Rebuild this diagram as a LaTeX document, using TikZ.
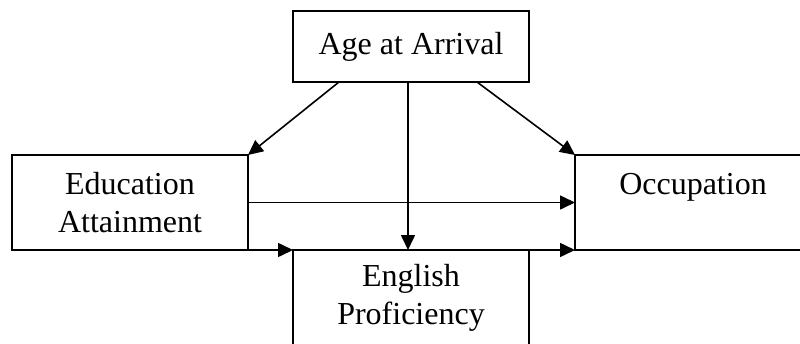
\documentclass[tikz,border=0pt]{standalone}
\usepackage{fontspec}
\setmainfont{Liberation Serif}
\usetikzlibrary{arrows.meta}
\begin{document}
\begin{tikzpicture}[x=1pt,y=-1pt,
  box/.style={draw,line width=1.6pt,minimum width=236pt,inner sep=0pt,outer sep=0pt,align=center,
    font=\fontsize{32}{38}\selectfont},
  conn/.style={line width=1.6pt,-{Triangle[length=15pt,width=14pt]}}]
\useasboundingbox (0,0) rectangle (800,343);
\clip (0,0) rectangle (800,343);
\fill[white] (0,0) rectangle (800,343);
\node[box,minimum height=71pt] (age) at (411,46.5) {Age at Arrival};
\node[box,minimum height=95pt] (edu) at (130,202.5) {Education\\Attainment};
\node[box,minimum height=95pt] (occ) at (693,202.5) {Occupation\\\phantom{A}};
\node[box,minimum height=95pt] (eng) at (411,297.5) {English\\Proficiency};
\draw[conn] ([xshift=46pt]age.south west) -- (edu.north east);
\draw[conn] ([xshift=-3pt]age.south) -- ([xshift=-3pt]eng.north);
\draw[conn] ([xshift=-52pt]age.south east) -- (occ.north west);
\draw[conn] (edu.east) -- (occ.west);
\draw[conn] (edu.south east) -- (eng.north west);
\draw[conn] (eng.north east) -- (occ.south west);
\end{tikzpicture}
\end{document}
